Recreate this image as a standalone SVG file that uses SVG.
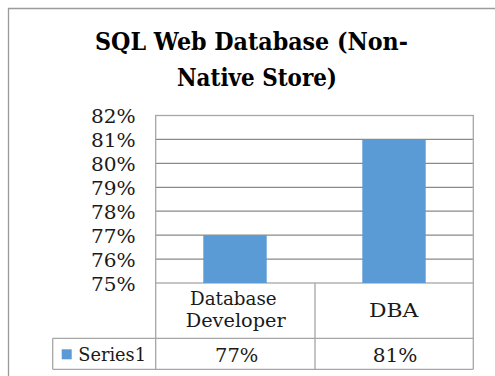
<svg xmlns="http://www.w3.org/2000/svg" width="495" height="376" viewBox="0 0 495 376">
<style>
text{font-family:'DejaVu Serif','Liberation Serif',serif;fill:#1a1a1a;}
.title{font-size:24.5px;font-weight:bold;fill:#000;}
.lab{font-size:18.5px;}
.grid{stroke:#8a8a8a;stroke-width:1.2;fill:none;}
.frame{stroke:#a6a6a6;stroke-width:1.3;fill:none;}
.bar{fill:#5b9bd5;}
</style>
<rect x="0" y="0" width="495" height="376" fill="#fff"/>
<path d="M8.5,376 V8.5 H495" stroke="#9a9a9a" stroke-width="1.3" fill="none"/>
<g id="title">
<text class="title" x="95" y="50" textLength="313" lengthAdjust="spacingAndGlyphs">SQL Web Database (Non-</text>
<text class="title" x="177" y="86" textLength="160" lengthAdjust="spacingAndGlyphs">Native Store)</text>
</g>
<g id="gridlines">
<line class="grid" x1="155.7" y1="139.4" x2="473.3" y2="139.4"/>
<line class="grid" x1="155.7" y1="163.4" x2="473.3" y2="163.4"/>
<line class="grid" x1="155.7" y1="187.3" x2="473.3" y2="187.3"/>
<line class="grid" x1="155.7" y1="211.2" x2="473.3" y2="211.2"/>
<line class="grid" x1="155.7" y1="235.1" x2="473.3" y2="235.1"/>
<line class="grid" x1="155.7" y1="259.1" x2="473.3" y2="259.1"/>
</g>
<rect id="plot-area" class="frame" x="155.7" y="115.5" width="317.6" height="167.5"/>
<g id="y-axis">
<text class="lab" x="91" y="123" textLength="44.7" lengthAdjust="spacingAndGlyphs">82%</text>
<text class="lab" x="91" y="146.9" textLength="44.7" lengthAdjust="spacingAndGlyphs">81%</text>
<text class="lab" x="91" y="170.9" textLength="44.7" lengthAdjust="spacingAndGlyphs">80%</text>
<text class="lab" x="91" y="194.8" textLength="44.7" lengthAdjust="spacingAndGlyphs">79%</text>
<text class="lab" x="91" y="218.7" textLength="44.7" lengthAdjust="spacingAndGlyphs">78%</text>
<text class="lab" x="91" y="242.6" textLength="44.7" lengthAdjust="spacingAndGlyphs">77%</text>
<text class="lab" x="91" y="266.6" textLength="44.7" lengthAdjust="spacingAndGlyphs">76%</text>
<text class="lab" x="91" y="290.5" textLength="44.7" lengthAdjust="spacingAndGlyphs">75%</text>
</g>
<g id="bars">
<rect id="bar-database-developer" class="bar" x="203.3" y="235.1" width="63.4" height="47.9"/>
<rect id="bar-dba" class="bar" x="362.3" y="139.4" width="63.4" height="143.6"/>
</g>
<g id="data-table">
<path class="frame" d="M155.7,283 V369.3 M315,283 V369.3 M473.3,283 V369.3 M52.7,338.3 H473.3 M52.7,369.3 H473.3 M52.7,338.3 V369.3"/>
<text class="lab" x="190" y="305" textLength="86.7" lengthAdjust="spacingAndGlyphs">Database</text>
<text class="lab" x="185.7" y="326.7" textLength="100" lengthAdjust="spacingAndGlyphs">Developer</text>
<text class="lab" x="369" y="316.7" textLength="49.3" lengthAdjust="spacingAndGlyphs">DBA</text>
<rect class="bar" x="61.7" y="349.3" width="10" height="10"/>
<text class="lab" x="78.3" y="361" textLength="67.7" lengthAdjust="spacingAndGlyphs">Series1</text>
<text class="lab" x="215" y="361.7" textLength="43.3" lengthAdjust="spacingAndGlyphs">77%</text>
<text class="lab" x="372.7" y="361.7" textLength="44.7" lengthAdjust="spacingAndGlyphs">81%</text>
</g>
</svg>
